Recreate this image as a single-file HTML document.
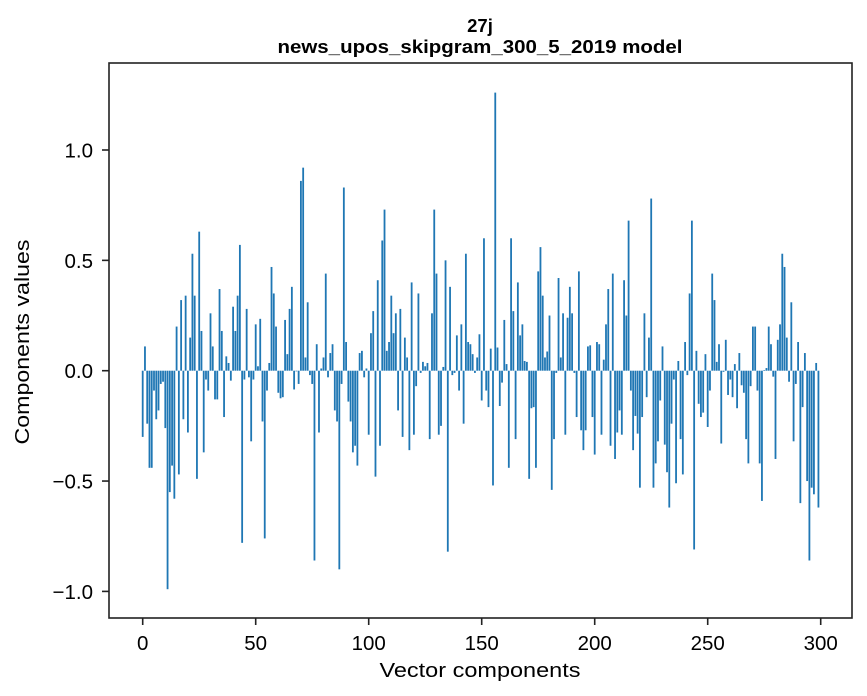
<!DOCTYPE html>
<html><head><meta charset="utf-8">
<style>
html,body{margin:0;padding:0;background:#fff;}
svg{display:block;font-family:"Liberation Sans","DejaVu Sans",sans-serif;}
</style></head>
<body>
<svg id="chart" width="867" height="696" viewBox="0 0 867 696" xmlns="http://www.w3.org/2000/svg">
<rect width="867" height="696" fill="#fff"/>
<text x="480" y="32" text-anchor="middle" font-weight="bold" font-size="18.5">27j</text>
<text x="480" y="53" text-anchor="middle" font-weight="bold" font-size="18.5" textLength="405" lengthAdjust="spacingAndGlyphs">news_upos_skipgram_300_5_2019 model</text>
<g id="bars"></g>
<g id="axes"></g>
<text x="480" y="677" text-anchor="middle" font-size="20" textLength="201" lengthAdjust="spacingAndGlyphs">Vector components</text>
<text transform="translate(29,342) rotate(-90)" text-anchor="middle" font-size="20" textLength="205" lengthAdjust="spacingAndGlyphs">Components values</text>
</svg>
<script>
const values = [
-0.30,0.11,-0.24,-0.44,-0.44,-0.09,-0.22,-0.18,-0.06,-0.05,
-0.26,-0.99,-0.55,-0.43,-0.58,0.20,-0.47,0.32,-0.22,0.34,
-0.28,0.15,0.53,0.34,-0.49,0.63,0.18,-0.37,-0.04,-0.09,
0.26,0.11,-0.13,-0.13,0.37,0.18,-0.21,0.065,0.035,-0.045,
0.29,0.18,0.34,0.57,-0.78,-0.04,0.28,-0.03,-0.32,-0.04,
0.21,0.02,0.235,-0.23,-0.76,-0.09,0.035,0.47,0.35,0.20,
-0.10,-0.125,-0.12,0.23,0.075,0.28,0.38,-0.085,-0.003,-0.06,
0.86,0.92,0.06,0.31,-0.02,-0.06,-0.86,0.12,-0.28,0.01,
0.06,0.44,-0.03,0.08,0.12,-0.18,-0.23,-0.90,-0.06,0.83,
0.13,-0.14,-0.23,-0.37,-0.34,-0.43,0.08,0.09,-0.03,0.01,
-0.29,0.17,0.27,-0.48,0.41,-0.34,0.59,0.73,0.09,0.13,
0.34,0.17,0.26,-0.18,0.28,-0.30,0.15,0.06,-0.36,0.40,
-0.29,-0.07,0.35,-0.01,0.04,0.02,0.035,-0.31,0.26,0.73,
0.44,-0.29,-0.25,0.017,0.50,-0.82,0.38,-0.02,-0.01,0.16,
-0.09,0.21,-0.24,0.53,0.13,0.12,0.075,-0.01,0.06,0.165,
-0.135,0.60,-0.09,-0.165,0.10,-0.52,1.26,0.105,-0.16,-0.054,
0.23,0.03,-0.44,0.60,0.27,-0.31,0.40,0.16,0.21,0.044,
0.04,-0.49,-0.17,-0.165,-0.44,0.45,0.56,0.34,0.06,0.087,
0.25,-0.54,-0.31,-0.01,0.42,0.06,0.26,-0.29,0.24,0.38,
0.26,-0.01,-0.21,0.45,-0.27,-0.36,-0.27,0.11,0.115,-0.21,
-0.38,0.13,0.12,-0.29,0.05,0.21,0.37,-0.34,0.44,-0.40,
-0.28,-0.18,-0.29,0.41,0.25,0.68,-0.09,-0.36,-0.205,-0.285,
-0.53,-0.21,0.26,-0.12,0.15,0.78,-0.53,-0.42,-0.32,-0.135,
0.11,-0.335,-0.46,-0.62,-0.24,-0.04,-0.51,0.044,-0.31,-0.47,
0.13,-0.02,0.35,0.68,-0.81,0.09,-0.15,-0.21,-0.19,0.075,
-0.255,-0.09,0.44,0.32,0.04,0.12,-0.33,-0.005,0.14,-0.11,
-0.04,-0.12,0.03,-0.17,0.08,-0.066,-0.10,-0.31,-0.42,-0.07,
0.20,0.20,-0.09,-0.42,-0.59,0.003,0.012,0.20,0.12,-0.027,
-0.40,0.14,0.21,0.53,0.47,0.15,-0.05,0.31,-0.32,-0.06,
0.13,-0.60,-0.165,0.08,-0.50,-0.86,-0.53,-0.56,0.035,-0.62
];
const xTicks = [0,50,100,150,200,250,300];
const yTicks = [-1.0,-0.5,0.0,0.5,1.0];
const yTickLabels = ["\u22121.0","\u22120.5","0.0","0.5","1.0"];

const NS="http://www.w3.org/2000/svg";
const plot={left:109,right:852,top:63,bottom:618};
const xScale = v => 142.7 + (v-0)*(820.7-142.7)/300;
const yScale = v => 370.7 - v*220.7;
const barsG=document.getElementById('bars');
const axesG=document.getElementById('axes');
const bw = 0.8*(820.7-142.7)/300;
values.forEach((v,i)=>{
  const r=document.createElementNS(NS,'rect');
  
  
  const y0=yScale(0), y1=yScale(v);
  r.setAttribute('x', xScale(i)-bw/2);
  r.setAttribute('y', Math.min(y0,y1));
  r.setAttribute('width', bw);
  r.setAttribute('height', Math.max(Math.abs(y1-y0),0.3));
  r.setAttribute('fill','#1f77b4');
  barsG.appendChild(r);
});
const frame=document.createElementNS(NS,'rect');


frame.setAttribute('x',plot.left);frame.setAttribute('y',plot.top);
frame.setAttribute('width',plot.right-plot.left);frame.setAttribute('height',plot.bottom-plot.top);
frame.setAttribute('fill','none');frame.setAttribute('stroke','#222');frame.setAttribute('stroke-width','1.6');
axesG.appendChild(frame);
xTicks.forEach(t=>{
  const x=xScale(t);
  const l=document.createElementNS(NS,'line');
  
  
  l.setAttribute('x1',x);l.setAttribute('x2',x);l.setAttribute('y1',plot.bottom);l.setAttribute('y2',plot.bottom+7);
  l.setAttribute('stroke','#222');l.setAttribute('stroke-width','1.6');
  axesG.appendChild(l);
  const tx=document.createElementNS(NS,'text');
  
  
  tx.setAttribute('x',x);tx.setAttribute('y',650);tx.setAttribute('text-anchor','middle');tx.setAttribute('font-size','20.5');
  tx.textContent=String(t);
  axesG.appendChild(tx);
});
yTicks.forEach((t,i)=>{
  const y=yScale(t);
  const l=document.createElementNS(NS,'line');
  
  
  l.setAttribute('x1',plot.left-7);l.setAttribute('x2',plot.left);l.setAttribute('y1',y);l.setAttribute('y2',y);
  l.setAttribute('stroke','#222');l.setAttribute('stroke-width','1.6');
  axesG.appendChild(l);
  const tx=document.createElementNS(NS,'text');
  
  
  tx.setAttribute('x',93);tx.setAttribute('y',y+7.5);tx.setAttribute('text-anchor','end');tx.setAttribute('font-size','20.5');
  tx.textContent=yTickLabels[i];
  axesG.appendChild(tx);
});
</script>
</body></html>
